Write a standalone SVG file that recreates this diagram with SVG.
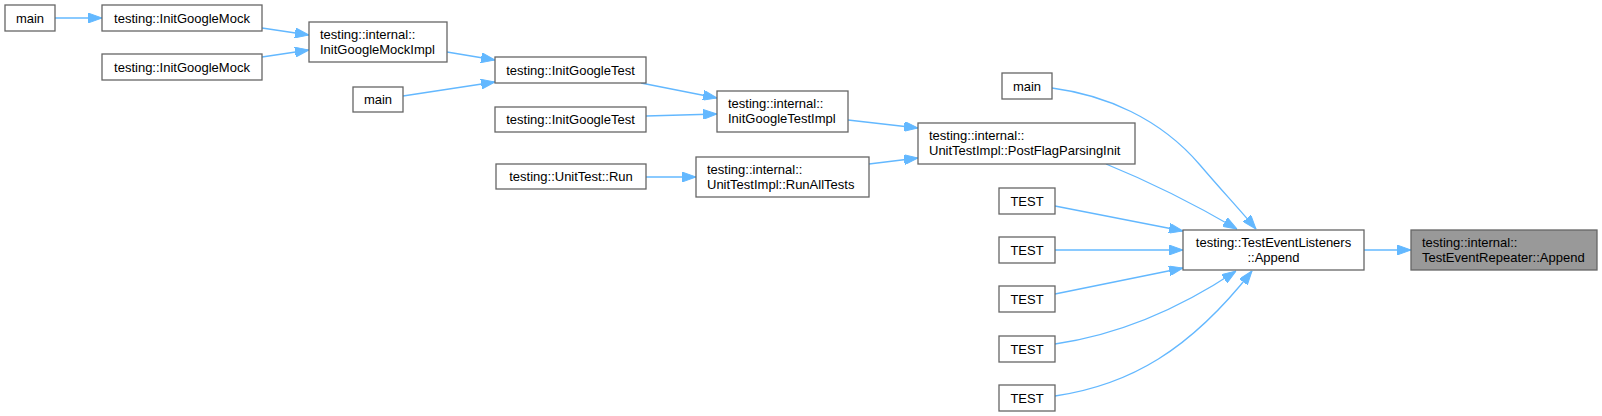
<svg xmlns="http://www.w3.org/2000/svg" width="1602" height="416" viewBox="0 0 1602 416">
<defs>
<style>
.n rect{fill:#ffffff;stroke:#666666;stroke-width:1.3}
.n.hl rect{fill:#999999}
.n text{font-family:"Liberation Sans",Arial,Helvetica,sans-serif;font-size:13px;fill:#000000}
.c{text-anchor:middle}
.e path{fill:none;stroke:#63b8ff;stroke-width:1.3;marker-end:url(#ah)}
</style>
<marker id="ah" markerUnits="userSpaceOnUse" viewBox="0 0 14 10" markerWidth="14" markerHeight="10" refX="14" refY="5" orient="auto">
<path d="M0,0 L14,5 L0,10 z" fill="#63b8ff" stroke="#63b8ff" stroke-width="1"/>
</marker>
</defs>
<rect width="1602" height="416" fill="#ffffff"/>
<g class="e" id="edges">
<path d="M55,18 L102,18"/>
<path d="M262,28 L309,35"/>
<path d="M262,57 L309,50"/>
<path d="M447,52 L495,60"/>
<path d="M403,96 L495,82"/>
<path d="M641,83 L717,98"/>
<path d="M646,116 L717,114"/>
<path d="M646,177 L696,177"/>
<path d="M848,120 L918,128"/>
<path d="M869,164 L918,158"/>
<path d="M1052,88 C1105,95 1160,118 1200,165 C1220,188.5 1240,210 1256,229"/>
<path d="M1106,164 Q1170,190 1237,229"/>
<path d="M1055,206 L1183,231"/>
<path d="M1055,250 L1183,250"/>
<path d="M1055,294 L1183,268"/>
<path d="M1055,344 C1110,336 1170,315 1236,271"/>
<path d="M1055,396 C1130,385 1190,350 1252,271"/>
<path d="M1364,250 L1411,250"/>
</g>
<g class="n" id="n_main1"><rect x="5" y="5" width="50" height="26"/><text class="c" x="30" y="22.5">main</text></g>
<g class="n" id="n_igm1"><rect x="102" y="5" width="160" height="26"/><text class="c" x="182" y="22.5">testing::InitGoogleMock</text></g>
<g class="n" id="n_igm2"><rect x="102" y="54" width="160" height="26"/><text class="c" x="182" y="71.5">testing::InitGoogleMock</text></g>
<g class="n" id="n_igmimpl"><rect x="309" y="22" width="138" height="40"/><text x="320" y="38.5">testing::internal::</text><text x="320" y="54">InitGoogleMockImpl</text></g>
<g class="n" id="n_main2"><rect x="353" y="87" width="50" height="25"/><text class="c" x="378" y="104">main</text></g>
<g class="n" id="n_igt1"><rect x="495" y="57" width="151" height="26"/><text class="c" x="570.5" y="74.5">testing::InitGoogleTest</text></g>
<g class="n" id="n_igt2"><rect x="495" y="107" width="151" height="25"/><text class="c" x="570.5" y="124">testing::InitGoogleTest</text></g>
<g class="n" id="n_run"><rect x="496" y="164" width="150" height="25"/><text class="c" x="571" y="181">testing::UnitTest::Run</text></g>
<g class="n" id="n_igtimpl"><rect x="717" y="91" width="131" height="41"/><text x="728" y="107.5">testing::internal::</text><text x="728" y="123">InitGoogleTestImpl</text></g>
<g class="n" id="n_runall"><rect x="696" y="157" width="173" height="40"/><text x="707" y="173.5">testing::internal::</text><text x="707" y="189">UnitTestImpl::RunAllTests</text></g>
<g class="n" id="n_postflag"><rect x="918" y="123" width="217" height="41"/><text x="929" y="139.5">testing::internal::</text><text x="929" y="155">UnitTestImpl::PostFlagParsingInit</text></g>
<g class="n" id="n_main3"><rect x="1002" y="73" width="50" height="26"/><text class="c" x="1027" y="90.5">main</text></g>
<g class="n" id="n_test1"><rect x="999" y="188" width="56" height="26"/><text class="c" x="1027" y="205.5">TEST</text></g>
<g class="n" id="n_test2"><rect x="999" y="237" width="56" height="26"/><text class="c" x="1027" y="254.5">TEST</text></g>
<g class="n" id="n_test3"><rect x="999" y="286" width="56" height="26"/><text class="c" x="1027" y="303.5">TEST</text></g>
<g class="n" id="n_test4"><rect x="999" y="336" width="56" height="26"/><text class="c" x="1027" y="353.5">TEST</text></g>
<g class="n" id="n_test5"><rect x="999" y="385" width="56" height="26"/><text class="c" x="1027" y="402.5">TEST</text></g>
<g class="n" id="n_append"><rect x="1183" y="230" width="181" height="40"/><text class="c" x="1273.5" y="246.5">testing::TestEventListeners</text><text class="c" x="1273.5" y="262">::Append</text></g>
<g class="n hl" id="n_repeater"><rect x="1411" y="230" width="186" height="40"/><text x="1422" y="246.5">testing::internal::</text><text x="1422" y="262">TestEventRepeater::Append</text></g>
</svg>
